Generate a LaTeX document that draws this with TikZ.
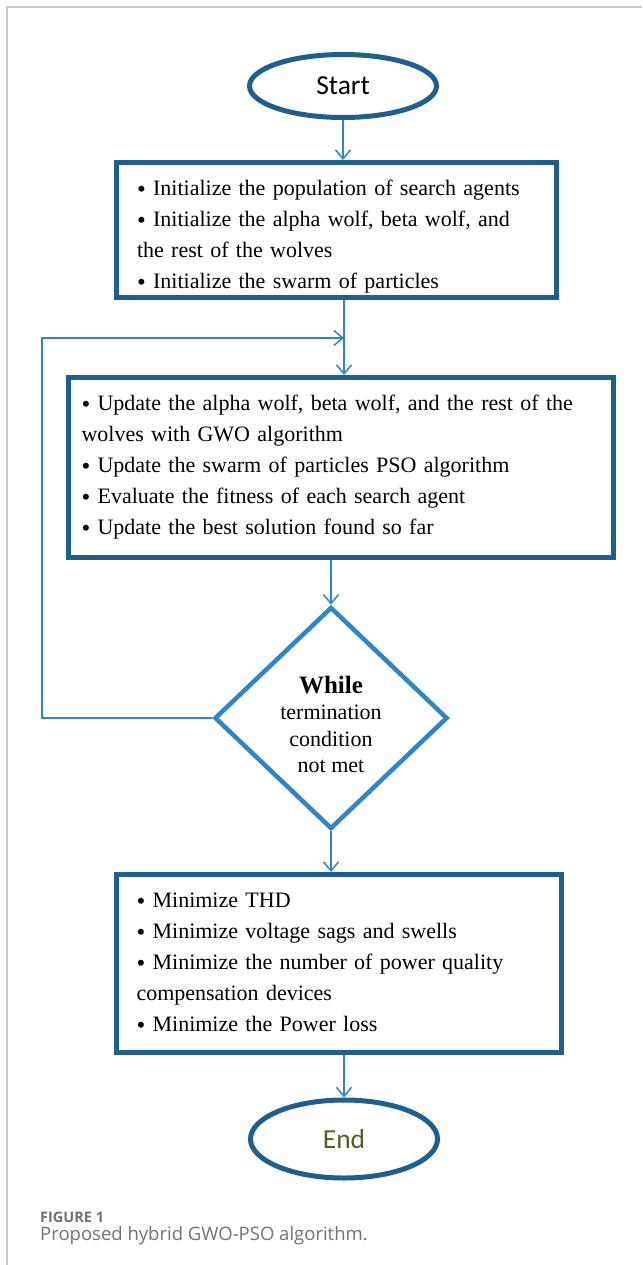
\documentclass[tikz,border=0pt]{standalone}
\usepackage{fontspec}
\setmainfont{Liberation Serif}
\newfontfamily\calibri{Carlito}
\newfontfamily\capfont{Open Sans}
\usetikzlibrary{arrows.meta,shapes.geometric}
\definecolor{boxblue}{HTML}{1F5F8F}
\definecolor{linkblue}{HTML}{2E86C8}
\definecolor{endgreen}{HTML}{4F6228}
\definecolor{capgray}{HTML}{727272}
\definecolor{framegray}{HTML}{CBCBCB}
% bullet a little heavier than the font's own
\newcommand\itm{\raisebox{-2pt}{\fontsize{25}{31}\selectfont\textbullet}\ }

\begin{document}
\begin{tikzpicture}[x=1pt,y=-1pt,
  term/.style={ellipse,draw=boxblue,line width=5pt,inner sep=0pt,
    font=\calibri\fontsize{27.5}{30}\selectfont},
  task/.style={rectangle,draw=boxblue,line width=5pt,align=left,
    inner ysep=0pt,font=\fontsize{22}{31}\selectfont},
  test/.style={diamond,draw=linkblue,line width=4.5pt,inner sep=0pt,
    minimum width=233pt,minimum height=222pt,align=center,
    font=\fontsize{22}{26.5}\selectfont},
  flow/.style={draw=linkblue,line width=1.5pt,
    -{Straight Barb[length=9pt,width=15pt,line width=1.5pt]}}]
\useasboundingbox (0,0) rectangle (642,1265);
% frame
\draw[framegray,line width=1.5pt] (7,1265) -- (7,7) -- (642,7);
% terminals
\node[term,minimum width=187pt,minimum height=63pt] (start) at (343,86) {Start};
\node[term,minimum width=187pt,minimum height=78pt,text=endgreen] (stop) at (344,1139) {End};
% process boxes
\node[task,text width=398pt,inner xsep=21pt,minimum height=135pt] (init) at (336,230)
  {\rule{0pt}{28pt}\itm Initialize the population of search agents\\
   \itm Initialize the alpha wolf, beta wolf, and\\
   the rest of the wolves\\
   \itm Initialize the swarm of particles};
\node[task,text width=518pt,inner xsep=13.5pt,minimum height=180pt] (update) at (340.5,467.5)
  {\itm Update the alpha wolf, beta wolf, and the rest of the\\
   wolves with GWO algorithm\\
   \itm Update the swarm of particles PSO algorithm\\
   \itm Evaluate the fitness of each search agent\\
   \itm Update the best solution found so far};
\node[test] (loop) at (331,718)
  {\rule{0pt}{30pt}{\fontsize{25}{26.5}\selectfont\bfseries While}\\termination\\condition\\not met};
\node[task,text width=404pt,inner xsep=20.5pt,minimum height=178pt] (goal) at (338.5,963.5)
  {\itm Minimize THD\\
   \itm Minimize voltage sags and swells\\
   \itm Minimize the number of power quality\\
   compensation devices\\
   \itm Minimize the Power loss};
% connectors
\coordinate (join) at (344,338);
\coordinate (back) at (42,338);
\draw[flow] (start) -- (init.north -| start);
\draw[flow] (init.south -| join) -- (update.north -| join);
\draw[flow] (update.south -| loop) -- (loop.north);
\draw[flow] (loop.south) -- (goal.north -| loop);
\draw[flow] (goal.south -| stop) -- (stop.north);
\draw[flow] (loop.west) -| (back) -- (join);
% caption
\node[anchor=base west,inner sep=0pt,text=capgray,font=\capfont\bfseries\fontsize{14.5}{17}\selectfont]
  (capnum) at (40,1222) {FIGURE 1};
\node[anchor=base west,inner sep=0pt,text=capgray,font=\capfont\fontsize{18.5}{20}\selectfont]
  (captxt) at (40,1240) {Proposed hybrid GWO-PSO algorithm.};
\end{tikzpicture}
\end{document}
